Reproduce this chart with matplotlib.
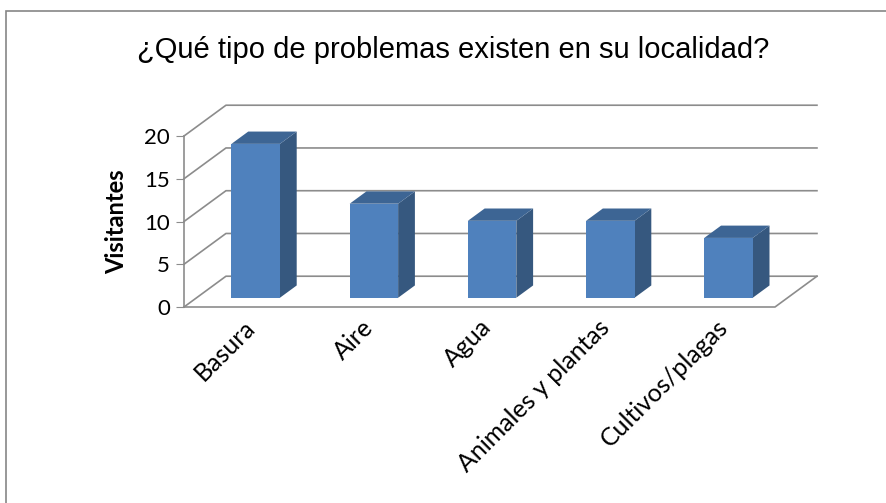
import matplotlib.pyplot as plt
from matplotlib.patches import Polygon, Rectangle

# Data
categories = ["Basura", "Aire", "Agua", "Animales y plantas", "Cultivos/plagas"]
visitantes = [18, 11, 9, 9, 7]
yticks = [0, 5, 10, 15, 20]

# 3D look: depth offsets in data units
DX = 0.355
DY = 3.6
d0, d1 = 0.3, 0.7
bar_w = 0.41

front_c = "#4f81bd"
side_c = "#36587f"
top_c = "#3d6594"
grid_c = "#8c8c8c"

fig = plt.figure(figsize=(8.86, 5.03), dpi=100)
ax = fig.add_axes([184 / 886, 196 / 503, 591 / 886, 171 / 503])
ax.set_xlim(0, len(categories))
ax.set_ylim(0, 20)

# walls and floor
n = len(categories)
for g in yticks:
    ax.plot([0, DX, n + DX], [g, g + DY, g + DY], color=grid_c, lw=1.2, clip_on=False, zorder=1)
ax.plot([0, n, n + DX], [0, 0, DY], color=grid_c, lw=1.2, clip_on=False, zorder=1)

# bars
for i, v in enumerate(visitantes):
    c = i + 0.5
    xl, xr = c - bar_w / 2, c + bar_w / 2
    front = [(xl + d0 * DX, d0 * DY), (xr + d0 * DX, d0 * DY),
             (xr + d0 * DX, v + d0 * DY), (xl + d0 * DX, v + d0 * DY)]
    side = [(xr + d0 * DX, d0 * DY), (xr + d1 * DX, d1 * DY),
            (xr + d1 * DX, v + d1 * DY), (xr + d0 * DX, v + d0 * DY)]
    top = [(xl + d0 * DX, v + d0 * DY), (xr + d0 * DX, v + d0 * DY),
           (xr + d1 * DX, v + d1 * DY), (xl + d1 * DX, v + d1 * DY)]
    for pts, col in [(side, side_c), (top, top_c), (front, front_c)]:
        ax.add_patch(Polygon(pts, closed=True, fc=col, ec="none", clip_on=False, zorder=3))

for s in ["top", "right", "bottom"]:
    ax.spines[s].set_visible(False)
ax.spines["left"].set_color(grid_c)
ax.spines["left"].set_linewidth(1.2)
ax.set_yticks(yticks)
ax.tick_params(axis="y", length=6, color=grid_c, labelsize=16, pad=4)
for lab in ax.get_yticklabels():
    lab.set_fontfamily("Lato")

ax.set_xticks([i + 0.5 for i in range(n)])
ax.set_xticklabels(categories, rotation=45, ha="right", rotation_mode="anchor",
                   fontsize=18, fontfamily="Lato")
ax.tick_params(axis="x", length=0, pad=6)

ax.set_ylabel("Visitantes", fontsize=17, fontweight="bold", fontfamily="Lato", labelpad=12)

fig.text(453 / 886, 1 - 50 / 503, "¿Qué tipo de problemas existen en su localidad?",
         ha="center", va="center", fontsize=21, fontfamily="Liberation Sans")

fig.add_artist(Rectangle((6 / 886, -0.05), 1.1, 492 / 503 + 0.05, transform=fig.transFigure,
                         fill=False, ec="#868686", lw=1.2))

fig.savefig("out.png", dpi=100)
